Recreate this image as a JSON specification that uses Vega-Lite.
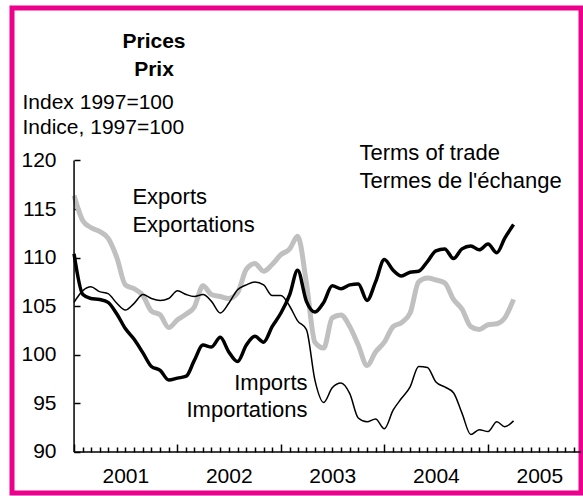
{
  "$schema": "https://vega.github.io/schema/vega-lite/v6.json",
  "width": 569,
  "height": 485,
  "autosize": {"type": "none"},
  "padding": {"left": 12, "top": 8, "right": 2, "bottom": 3},
  "background": "white",
  "config": {
    "view": {"stroke": "#EC008C", "strokeWidth": 5},
    "font": "Liberation Sans",
    "text": {"font": "Liberation Sans"},
    "axisY": {"labelPadding": 24},
    "axisX": {"labelPadding": 18}
  },
  "title": {
    "text": ["Prices", "Prix"],
    "anchor": "start",
    "frame": "group",
    "align": "center",
    "dx": 142,
    "offset": -89,
    "baseline": "alphabetic",
    "fontSize": 21,
    "fontWeight": "bold",
    "font": "Liberation Sans",
    "lineHeight": 28,
    "color": "black"
  },
  "datasets": {
    "prices": [
      {"date": "2001-01-01", "exports": 116.4, "terms": 110.4, "imports": 105.4},
      {"date": "2001-02-01", "exports": 113.8, "terms": 106.2, "imports": 106.6},
      {"date": "2001-03-01", "exports": 113.1, "terms": 105.8, "imports": 107.0},
      {"date": "2001-04-01", "exports": 112.7, "terms": 105.7, "imports": 106.5},
      {"date": "2001-05-01", "exports": 112.0, "terms": 105.4, "imports": 106.3},
      {"date": "2001-06-01", "exports": 110.0, "terms": 104.2, "imports": 105.3},
      {"date": "2001-07-01", "exports": 107.2, "terms": 102.7, "imports": 104.6},
      {"date": "2001-08-01", "exports": 106.8, "terms": 101.6, "imports": 105.3},
      {"date": "2001-09-01", "exports": 106.1, "terms": 100.2, "imports": 106.2},
      {"date": "2001-10-01", "exports": 104.5, "terms": 98.8, "imports": 105.8},
      {"date": "2001-11-01", "exports": 104.1, "terms": 98.4, "imports": 105.6},
      {"date": "2001-12-01", "exports": 102.8, "terms": 97.4, "imports": 105.8},
      {"date": "2002-01-01", "exports": 103.6, "terms": 97.6, "imports": 106.6},
      {"date": "2002-02-01", "exports": 104.2, "terms": 97.8, "imports": 106.2},
      {"date": "2002-03-01", "exports": 104.9, "terms": 99.4, "imports": 106.0},
      {"date": "2002-04-01", "exports": 107.1, "terms": 101.0, "imports": 106.2},
      {"date": "2002-05-01", "exports": 106.2, "terms": 100.8, "imports": 105.5},
      {"date": "2002-06-01", "exports": 106.0, "terms": 101.8, "imports": 104.3},
      {"date": "2002-07-01", "exports": 105.8, "terms": 100.3, "imports": 105.3},
      {"date": "2002-08-01", "exports": 106.4, "terms": 99.3, "imports": 106.7},
      {"date": "2002-09-01", "exports": 108.8, "terms": 101.0, "imports": 107.2},
      {"date": "2002-10-01", "exports": 109.4, "terms": 101.9, "imports": 107.5},
      {"date": "2002-11-01", "exports": 108.6, "terms": 101.3, "imports": 107.2},
      {"date": "2002-12-01", "exports": 109.3, "terms": 102.9, "imports": 106.1},
      {"date": "2003-01-01", "exports": 110.3, "terms": 104.3, "imports": 106.1},
      {"date": "2003-02-01", "exports": 110.9, "terms": 106.2, "imports": 105.0},
      {"date": "2003-03-01", "exports": 112.2, "terms": 108.7, "imports": 103.5},
      {"date": "2003-04-01", "exports": 107.4, "terms": 105.5, "imports": 102.6},
      {"date": "2003-05-01", "exports": 101.3, "terms": 104.4, "imports": 97.4},
      {"date": "2003-06-01", "exports": 100.7, "terms": 105.4, "imports": 95.1},
      {"date": "2003-07-01", "exports": 103.8, "terms": 107.1, "imports": 96.6},
      {"date": "2003-08-01", "exports": 104.1, "terms": 106.8, "imports": 97.1},
      {"date": "2003-09-01", "exports": 102.9, "terms": 107.2, "imports": 96.0},
      {"date": "2003-10-01", "exports": 101.0, "terms": 107.3, "imports": 93.5},
      {"date": "2003-11-01", "exports": 98.9, "terms": 105.6, "imports": 93.1},
      {"date": "2003-12-01", "exports": 100.3, "terms": 107.5, "imports": 93.4},
      {"date": "2004-01-01", "exports": 101.3, "terms": 109.8, "imports": 92.4},
      {"date": "2004-02-01", "exports": 102.9, "terms": 108.7, "imports": 94.3},
      {"date": "2004-03-01", "exports": 103.3, "terms": 108.1, "imports": 95.5},
      {"date": "2004-04-01", "exports": 104.3, "terms": 108.5, "imports": 96.7},
      {"date": "2004-05-01", "exports": 107.5, "terms": 108.6, "imports": 98.8},
      {"date": "2004-06-01", "exports": 107.9, "terms": 109.6, "imports": 98.7},
      {"date": "2004-07-01", "exports": 107.7, "terms": 110.7, "imports": 97.2},
      {"date": "2004-08-01", "exports": 107.4, "terms": 110.9, "imports": 96.7},
      {"date": "2004-09-01", "exports": 105.7, "terms": 109.9, "imports": 96.1},
      {"date": "2004-10-01", "exports": 104.7, "terms": 110.9, "imports": 94.0},
      {"date": "2004-11-01", "exports": 102.9, "terms": 111.2, "imports": 91.8},
      {"date": "2004-12-01", "exports": 102.6, "terms": 110.8, "imports": 92.3},
      {"date": "2005-01-01", "exports": 103.1, "terms": 111.4, "imports": 92.1},
      {"date": "2005-02-01", "exports": 103.2, "terms": 110.5, "imports": 93.1},
      {"date": "2005-03-01", "exports": 103.8, "terms": 112.0, "imports": 92.6},
      {"date": "2005-04-01", "exports": 105.7, "terms": 113.4, "imports": 93.2}
    ],
    "labelsLeft": [
      {"date": "2001-07-26", "value": 115.5, "label": "Exports\nExportations"},
      {"date": "2003-10-05", "value": 120.0, "label": "Terms of trade\nTermes de l'échange"}
    ],
    "labelsRight": [
      {"date": "2003-04-05", "value": 96.4, "label": "Imports\nImportations"}
    ],
    "frame": [
      {"start": "2001-01-01", "end": "2005-11-25", "low": 90, "high": 120}
    ]
  },
  "layer": [
    {
      "data": {"name": "prices"},
      "mark": {"type": "line", "color": "#C0C0C0", "strokeWidth": 5, "interpolate": "monotone"},
      "encoding": {
        "x": {
          "field": "date", "type": "temporal",
          "scale": {"type": "utc", "domain": [{"year": 2000, "month": 5, "date": 27, "utc": true}, {"year": 2005, "month": 11, "date": 25, "utc": true}]},
          "axis": {
            "domain": false, "grid": false, "orient": "bottom", "offset": -41, "title": null,
            "tickCount": {"interval": "month", "step": 1},
            "tickSize": {"condition": {"test": "utcmonth(datum.value) == 0", "value": -8}, "value": -5},
            "tickOpacity": {"condition": {"test": "datum.value < utc(2001,0,1)", "value": 0}, "value": 1},
            "tickColor": "black", "tickWidth": 1.5,
            "labelExpr": "(utcmonth(datum.value) == 6 && datum.value > utc(2001,0,1)) ? utcFormat(datum.value, '%Y') : ''",
            "labelOverlap": false, "labelFlush": false,
            "labelFontSize": 21, "labelFont": "Liberation Sans", "labelColor": "black"
          }
        },
        "y": {
          "field": "exports", "type": "quantitative",
          "scale": {"domain": [85.78, 135.69], "nice": false, "zero": false},
          "axis": {
            "domain": false, "grid": false, "offset": -62,
            "values": [90, 95, 100, 105, 110, 115, 120],
            "tickSize": -6, "tickWidth": 1.5, "tickColor": "black",
            "labelFontSize": 21, "labelFont": "Liberation Sans", "labelColor": "black",
            "title": ["Index 1997=100", "Indice, 1997=100"],
            "titleAngle": 0, "titleAlign": "left", "titleBaseline": "alphabetic",
            "titleX": -52, "titleY": 100, "titleFontWeight": "normal", "titleFontSize": 21,
            "titleFont": "Liberation Sans", "titleLineHeight": 25.5, "titleColor": "black"
          }
        }
      }
    },
    {
      "data": {"name": "prices"},
      "mark": {"type": "line", "color": "black", "strokeWidth": 1.5, "interpolate": "monotone"},
      "encoding": {
        "x": {"field": "date", "type": "temporal"},
        "y": {"field": "imports", "type": "quantitative"}
      }
    },
    {
      "data": {"name": "prices"},
      "mark": {"type": "line", "color": "black", "strokeWidth": 3.5, "interpolate": "monotone"},
      "encoding": {
        "x": {"field": "date", "type": "temporal"},
        "y": {"field": "terms", "type": "quantitative"}
      }
    },
    {
      "data": {"name": "frame"},
      "mark": {"type": "rule", "color": "black", "strokeWidth": 1.5},
      "encoding": {
        "x": {"field": "start", "type": "temporal"},
        "y": {"field": "low", "type": "quantitative"},
        "y2": {"field": "high"}
      }
    },
    {
      "data": {"name": "frame"},
      "mark": {"type": "rule", "color": "black", "strokeWidth": 1.5},
      "encoding": {
        "x": {"field": "start", "type": "temporal"},
        "x2": {"field": "end"},
        "y": {"field": "low", "type": "quantitative"}
      }
    },
    {
      "data": {"name": "labelsLeft"},
      "mark": {"type": "text", "align": "left", "baseline": "alphabetic", "fontSize": 22, "lineHeight": 27.5, "lineBreak": "\n", "color": "black"},
      "encoding": {
        "x": {"field": "date", "type": "temporal"},
        "y": {"field": "value", "type": "quantitative"},
        "text": {"field": "label"}
      }
    },
    {
      "data": {"name": "labelsRight"},
      "mark": {"type": "text", "align": "right", "baseline": "alphabetic", "fontSize": 22, "lineHeight": 27.5, "lineBreak": "\n", "color": "black"},
      "encoding": {
        "x": {"field": "date", "type": "temporal"},
        "y": {"field": "value", "type": "quantitative"},
        "text": {"field": "label"}
      }
    }
  ]
}
